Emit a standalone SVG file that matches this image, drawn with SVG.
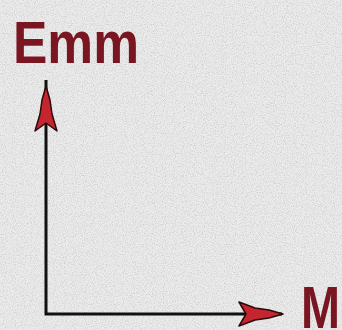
<svg xmlns="http://www.w3.org/2000/svg" width="342" height="330" viewBox="0 0 342 330">
<style>
.lbl{font-family:"Liberation Sans",Arial,sans-serif;font-weight:bold;fill:#7a1622}
.axis{stroke:#111;stroke-width:3;fill:none}
.head{fill:#c4252f;stroke:#2a0a0a;stroke-width:1.5;stroke-linejoin:round}
</style>
<defs>
<filter id="noise" x="0" y="0" width="100%" height="100%">
<feTurbulence type="fractalNoise" baseFrequency="0.9" numOctaves="2" seed="3" result="t"/>
<feColorMatrix type="matrix" values="0 0 0 0 0.5  0 0 0 0 0.5  0 0 0 0 0.5  0 0 0 -2.6 1.45"/>
</filter>
</defs>
<rect width="342" height="330" fill="#ebebeb"/>
<rect width="342" height="330" filter="url(#noise)" opacity="0.6"/>
<g id="label-emm"><text class="lbl" x="13" y="62" font-size="51" transform="translate(0,-10) scale(1,1.17)" textLength="126" lengthAdjust="spacingAndGlyphs">Emm</text></g>
<g id="label-m"><text class="lbl" x="301" y="329.5" font-size="51" transform="translate(0,-58) scale(1,1.17)" textLength="39" lengthAdjust="spacingAndGlyphs">M</text></g>
<g id="connectors">
<path class="axis" d="M46,80 V314 H282"/>
<path id="arrow-up" class="head" d="M46,86 L50,100 L52,114 L57,131 L46,123 L35,131 L40,114 L42,100 Z"/>
<path id="arrow-right" class="head" d="M283,314 L269,318 L255,320 L239,326 L246,314 L239,302 L255,308 L269,310 Z"/>
</g>
</svg>
